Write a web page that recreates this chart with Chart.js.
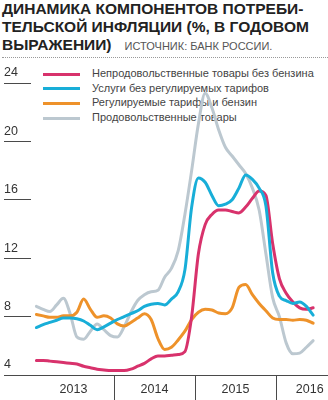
<!DOCTYPE html>
<html lang="ru">
<head>
<meta charset="utf-8">
<script src="https://cdn.jsdelivr.net/npm/chart.js@4"></script>
<style>
  body { margin: 0; background: #fff; width: 328px; height: 400px; overflow: hidden; position: relative; font-family: "Liberation Sans", Arial, sans-serif; }
  .titulo { position: absolute; left: 2px; top: 0; width: 326px; font-size: 15.5px; line-height: 18px; font-weight: bold; color: #222; white-space: nowrap; padding-bottom: 2px; border-bottom: 1px dotted #999; }
  .fuente { font-size: 11px; font-weight: normal; color: #555; margin-left: 13px; }
  .leyenda { position: absolute; left: 43px; top: 66px; font-size: 11px; color: #444; }
  .leyenda div { height: 14.7px; line-height: 14.7px; white-space: nowrap; }
  .leyenda span.linea { display: inline-block; width: 37px; height: 3px; vertical-align: middle; margin-right: 12px; }
  .wrap { position: absolute; left: 0; top: 0; width: 328px; height: 400px; }
</style>
</head>
<body>
<div class="titulo">ДИНАМИКА КОМПОНЕНТОВ ПОТРЕБИ-<br>ТЕЛЬСКОЙ ИНФЛЯЦИИ (%, В ГОДОВОМ<br>ВЫРАЖЕНИИ)<span class="fuente">ИСТОЧНИК: БАНК РОССИИ.</span></div>
<div class="leyenda"></div>
<div class="wrap"><canvas class="grafico"></canvas></div>
<script>
const canvas = document.querySelector('.grafico');
const leyenda = document.querySelector('.leyenda');

// помесячно, январь 2013 – июнь 2016
const noAlimentos = [5.0, 5.0, 4.95, 4.9, 4.85, 4.8, 4.75, 4.6, 4.5, 4.4, 4.35, 4.3,
  4.3, 4.3, 4.4, 4.6, 4.8, 5.1, 5.3, 5.3, 5.35, 5.4, 5.6, 8.0,
  12.3, 14.3, 15.0, 15.3, 15.3, 15.2, 15.1, 15.5, 16.1, 16.6, 16.3, 13.0,
  10.6, 9.6, 9.0, 8.6, 8.5, 8.6];
const servicios = [7.25, 7.45, 7.6, 7.75, 7.9, 7.9, 7.85, 7.7, 7.4, 7.1, 7.3, 7.55,
  7.8, 8.0, 8.2, 8.4, 8.7, 8.85, 8.9, 8.8, 9.2, 9.7, 11.2, 15.5,
  17.5, 17.2, 16.3, 15.6, 15.7, 16.0, 16.8, 17.7, 17.4, 16.8, 15.6, 11.0,
  9.4, 9.1, 8.9, 9.0, 8.7, 8.1];
const tarifas = [8.15, 8.05, 7.95, 7.95, 8.05, 8.05, 8.3, 9.2, 8.5, 7.95, 8.05, 7.9,
  7.5, 7.35, 7.6, 7.9, 8.2, 7.8, 6.5, 5.75, 5.9, 6.4, 7.0, 7.8,
  8.3, 8.5, 8.45, 8.25, 8.2, 8.6, 10.0, 10.2, 9.5, 8.9, 8.4, 7.9,
  7.8, 7.8, 7.75, 7.8, 7.75, 7.55];
const alimentos = [8.7, 8.5, 8.35, 8.8, 9.25, 8.2, 6.6, 6.45, 7.0, 7.5, 7.1, 6.7,
  6.6, 7.3, 8.3, 9.1, 9.5, 9.7, 9.8, 10.7, 11.3, 12.5, 15.0, 18.0,
  21.2, 23.3, 22.3, 20.8, 19.6, 19.0, 18.4, 17.8, 16.8, 15.3, 12.3, 9.3,
  8.0, 6.2, 5.45, 5.5, 5.9, 6.35];

const anios = ['2013', '2014', '2015', '2016'];
const posAnios = [6, 18, 30, 41];      // середина года, месяцы от янв 2013
const limitesAnio = [12, 24, 36];
const marcasY = [4, 8, 12, 16, 20, 24];

const series = [
  { label: 'Непродовольственные товары без бензина', data: noAlimentos, color: '#d8326c', order: 1 },
  { label: 'Услуги без регулируемых тарифов', data: servicios, color: '#18aed8', order: 0 },
  { label: 'Регулируемые тарифы и бензин', data: tarifas, color: '#ee922a', order: 2 },
  { label: 'Продовольственные товары', data: alimentos, color: '#bcc8d0', order: 3 }
];

const puntos = (arr) => arr.map((v, i) => ({ x: i + 0.5, y: v }));

series.forEach(s => {
  const fila = document.createElement('div');
  fila.innerHTML = `<span class="linea" style="background:${s.color}"></span>${s.label}`;
  leyenda.appendChild(fila);
});

const lineaGris = '#4a4a4a';

new Chart(canvas, {
  type: 'line',
  data: {
    datasets: series.map(s => ({
      label: s.label,
      data: puntos(s.data),
      borderColor: s.color,
      backgroundColor: s.color,
      order: s.order
    }))
  },
  options: {
    responsive: true,
    maintainAspectRatio: false,
    animation: false,
    layout: { padding: { top: 83, left: 4, right: 0, bottom: 0 } },
    plugins: { legend: { display: false }, tooltip: { enabled: false } },
    elements: {
      point: { radius: 0 },
      line: { borderWidth: 3, cubicInterpolationMode: 'monotone', borderCapStyle: 'round', borderJoinStyle: 'round' }
    },
    scales: {
      x: {
        type: 'linear',
        min: -0.3,
        max: 43.7,
        afterBuildTicks: (s) => { s.ticks = posAnios.concat(limitesAnio).sort((a, b) => a - b).map(v => ({ value: v })); },
        afterFit: (s) => { s.height = 25; },
        border: { display: true, color: lineaGris, width: 1 },
        grid: {
          drawOnChartArea: false,
          tickLength: 25,
          tickWidth: 1,
          tickColor: (ctx) => limitesAnio.includes(ctx.tick && ctx.tick.value) ? lineaGris : 'rgba(0,0,0,0)'
        },
        ticks: {
          autoSkip: false,
          maxRotation: 0,
          padding: -18,
          color: '#333',
          font: { size: 12.5, family: '"Liberation Sans", Arial, sans-serif' },
          callback: (v) => {
            const i = posAnios.indexOf(v);
            return i >= 0 ? anios[i] : '';
          }
        }
      },
      y: {
        min: 4,
        max: 24,
        afterBuildTicks: (s) => { s.ticks = marcasY.map(v => ({ value: v })); },
        afterFit: (s) => { s.width = 27; },
        border: { display: false },
        grid: { drawOnChartArea: false, tickLength: 27, tickWidth: 1, tickColor: lineaGris },
        ticks: {
          autoSkip: false,
          crossAlign: 'far',
          labelOffset: -10,
          padding: 0,
          color: '#333',
          font: { size: 12.5, family: '"Liberation Sans", Arial, sans-serif' }
        }
      }
    }
  }
});
</script>
</body>
</html>
